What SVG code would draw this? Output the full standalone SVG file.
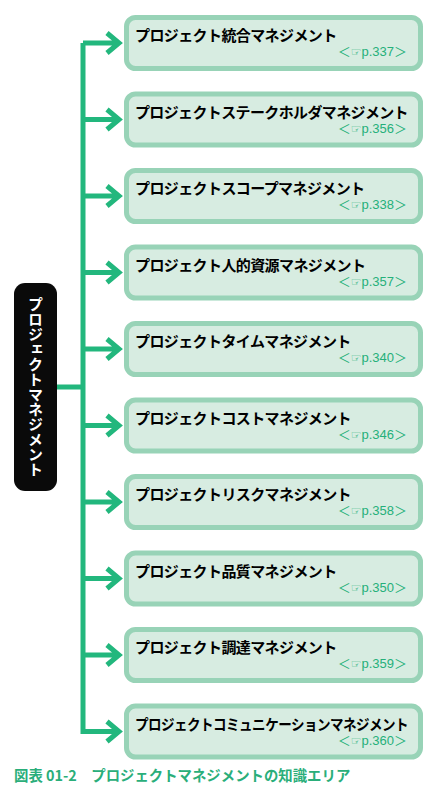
<svg xmlns="http://www.w3.org/2000/svg" width="438" height="793" viewBox="0 0 438 793">
<style>
.box rect{fill:#d7ece1;stroke:#98d3b7;stroke-width:5}
.t{font-family:"Noto Sans CJK JP","Noto Sans",sans-serif;font-weight:bold;font-size:15px;fill:#000;letter-spacing:-0.6px}
.p{font-family:"Liberation Sans","Noto Sans CJK JP",sans-serif;font-size:13px;fill:#25b07a;text-anchor:end}
.s{font-family:"DejaVu Sans",sans-serif;font-size:12px}
.ln{stroke:#22b77d;stroke-width:5;fill:none}
</style>
<rect width="438" height="793" fill="#fff"/>
<g id="connectors" class="ln">
<path d="M83 43 V734 M57 387 H83"/>
<g id="arrows">
<path d="M83 43H118M107 33L119 43L107 53"/>
<path d="M83 119.5H118M107 109.5L119 119.5L107 129.5"/>
<path d="M83 196H118M107 186L119 196L107 206"/>
<path d="M83 272.5H118M107 262.5L119 272.5L107 282.5"/>
<path d="M83 349H118M107 339L119 349L107 359"/>
<path d="M83 425.5H118M107 415.5L119 425.5L107 435.5"/>
<path d="M83 502H118M107 492L119 502L107 512"/>
<path d="M83 578.5H118M107 568.5L119 578.5L107 588.5"/>
<path d="M83 655H118M107 645L119 655L107 665"/>
<path d="M83 731.5H118M107 721.5L119 731.5L107 741.5"/>
</g>
</g>
<g id="root">
<rect x="14" y="283" width="43" height="208" rx="11" fill="#0a0a0a"/>
<text x="35.5" y="387" writing-mode="vertical-rl" text-anchor="middle" font-family="Noto Sans CJK JP,sans-serif" font-weight="bold" font-size="15" fill="#fff">プロジェクトマネジメント</text>
</g>
<g id="n1" class="box" transform="translate(0,0)"><rect x="126.5" y="17.5" width="294" height="51" rx="9"/><text class="t" x="135" y="41">プロジェクト統合マネジメント</text><text class="p" x="407" y="56">＜<tspan class="s">☞</tspan>p.337＞</text></g>
<g id="n2" class="box" transform="translate(0,76.5)"><rect x="126.5" y="17.5" width="294" height="51" rx="9"/><text class="t" x="135" y="41" textLength="273" lengthAdjust="spacingAndGlyphs">プロジェクトステークホルダマネジメント</text><text class="p" x="407" y="56">＜<tspan class="s">☞</tspan>p.356＞</text></g>
<g id="n3" class="box" transform="translate(0,153)"><rect x="126.5" y="17.5" width="294" height="51" rx="9"/><text class="t" x="135" y="41">プロジェクトスコープマネジメント</text><text class="p" x="407" y="56">＜<tspan class="s">☞</tspan>p.338＞</text></g>
<g id="n4" class="box" transform="translate(0,229.5)"><rect x="126.5" y="17.5" width="294" height="51" rx="9"/><text class="t" x="135" y="41">プロジェクト人的資源マネジメント</text><text class="p" x="407" y="56">＜<tspan class="s">☞</tspan>p.357＞</text></g>
<g id="n5" class="box" transform="translate(0,306)"><rect x="126.5" y="17.5" width="294" height="51" rx="9"/><text class="t" x="135" y="41">プロジェクトタイムマネジメント</text><text class="p" x="407" y="56">＜<tspan class="s">☞</tspan>p.340＞</text></g>
<g id="n6" class="box" transform="translate(0,382.5)"><rect x="126.5" y="17.5" width="294" height="51" rx="9"/><text class="t" x="135" y="41">プロジェクトコストマネジメント</text><text class="p" x="407" y="56">＜<tspan class="s">☞</tspan>p.346＞</text></g>
<g id="n7" class="box" transform="translate(0,459)"><rect x="126.5" y="17.5" width="294" height="51" rx="9"/><text class="t" x="135" y="41">プロジェクトリスクマネジメント</text><text class="p" x="407" y="56">＜<tspan class="s">☞</tspan>p.358＞</text></g>
<g id="n8" class="box" transform="translate(0,535.5)"><rect x="126.5" y="17.5" width="294" height="51" rx="9"/><text class="t" x="135" y="41">プロジェクト品質マネジメント</text><text class="p" x="407" y="56">＜<tspan class="s">☞</tspan>p.350＞</text></g>
<g id="n9" class="box" transform="translate(0,612)"><rect x="126.5" y="17.5" width="294" height="51" rx="9"/><text class="t" x="135" y="41">プロジェクト調達マネジメント</text><text class="p" x="407" y="56">＜<tspan class="s">☞</tspan>p.359＞</text></g>
<g id="n10" class="box" transform="translate(0,688.5)"><rect x="126.5" y="17.5" width="294" height="51" rx="9"/><text class="t" x="135" y="41" textLength="273" lengthAdjust="spacingAndGlyphs">プロジェクトコミュニケーションマネジメント</text><text class="p" x="407" y="56">＜<tspan class="s">☞</tspan>p.360＞</text></g>
<text id="caption" x="14" y="781" font-family="Noto Sans CJK JP,sans-serif" font-weight="bold" font-size="14.4" fill="#2aae7a">図表 01-2　プロジェクトマネジメントの知識エリア</text>
</svg>
